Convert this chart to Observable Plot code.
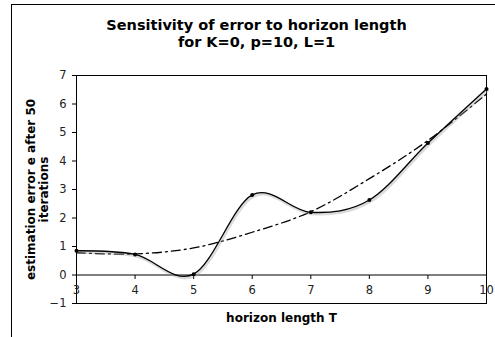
<!DOCTYPE html>
<html>
<head>
<meta charset="utf-8">
<script src="https://cdn.jsdelivr.net/npm/d3@7"></script>
<script src="https://cdn.jsdelivr.net/npm/@observablehq/plot@0.6"></script>
<style>
  html, body { margin: 0; padding: 0; background: #fff; }
  #wrap { position: relative; width: 495px; height: 337px; overflow: hidden; }
  #border { position: absolute; left: 11px; top: 4px; width: 600px; height: 600px; border: 1px solid #000; pointer-events: none; }
  svg { font-family: "DejaVu Sans", Verdana, sans-serif; }
</style>
</head>
<body>
<div id="wrap"><div id="border"></div></div>
<script>
const horizon = [3, 4, 5, 6, 7, 8, 9, 10];
const errorValues = [0.85, 0.72, 0.03, 2.81, 2.2, 2.63, 4.63, 6.53];
const trendValues = [0.78, 0.74, 0.95, 1.5, 2.22, 3.38, 4.72, 6.35];
const xTicks = [3, 4, 5, 6, 7, 8, 9, 10];
const yTicks = [-1, 0, 1, 2, 3, 4, 5, 6, 7];
const titleText = "Sensitivity of error to horizon length\nfor K=0, p=10, L=1";
const yLabel = "estimation error e after 50\niterations";
const xLabel = "horizon length T";

const measured = horizon.map((t, i) => ({t, v: errorValues[i]}));
const trend = horizon.map((t, i) => ({t, v: trendValues[i]}));

const tickDown = { draw(ctx, size) { ctx.moveTo(0, 0); ctx.lineTo(0, 4); } };

const chart = Plot.plot({
  width: 495,
  height: 337,
  marginLeft: 76,
  marginRight: 9,
  marginTop: 75,
  marginBottom: 34,
  style: { fontFamily: "DejaVu Sans, Verdana, sans-serif", background: "transparent", overflow: "visible" },
  x: { domain: [3, 10], axis: null },
  y: { domain: [-1, 7], axis: null },
  marks: [
    Plot.frame({ stroke: "#000" }),
    Plot.axisY(yTicks, { anchor: "left", label: null, tickSize: 4, tickPadding: 6, fontSize: 11.5, stroke: "#000", color: "#222" }),
    Plot.ruleY([0], { stroke: "#000" }),
    Plot.dot(xTicks, { x: d => d, y: 0, symbol: tickDown, stroke: "#000", strokeWidth: 1, r: 4 }),
    Plot.text(xTicks, { x: d => d, y: 0, dy: 15, text: d => String(d), fontSize: 11.5, fill: "#222" }),
    Plot.line(trend, { x: "t", y: "v", curve: "catmull-rom", stroke: "#000", strokeWidth: 1.3, strokeDasharray: "9,4,2,4" }),
    Plot.line(measured, { x: "t", y: "v", curve: "cardinal", stroke: "#999", strokeWidth: 3, strokeOpacity: 0.35, dx: 1, dy: 1.5 }),
    Plot.line(measured, { x: "t", y: "v", curve: "cardinal", stroke: "#000", strokeWidth: 1.3 }),
    Plot.dot(measured, { x: "t", y: "v", r: 2, fill: "#000" }),
    Plot.text([titleText], { frameAnchor: "top", dx: -25, dy: -58, fontSize: 14.5, fontWeight: "bold", lineHeight: 1.2, fill: "#000" }),
    Plot.text([yLabel], { frameAnchor: "left", textAnchor: "middle", dx: -39, rotate: -90, fontSize: 12, fontWeight: "bold", lineHeight: 1.05, fill: "#000" }),
    Plot.text([xLabel], { frameAnchor: "bottom", dy: 18, fontSize: 12, fontWeight: "bold", fill: "#000" })
  ]
});
document.getElementById("wrap").insertBefore(chart, document.getElementById("border"));
</script>
</body>
</html>
